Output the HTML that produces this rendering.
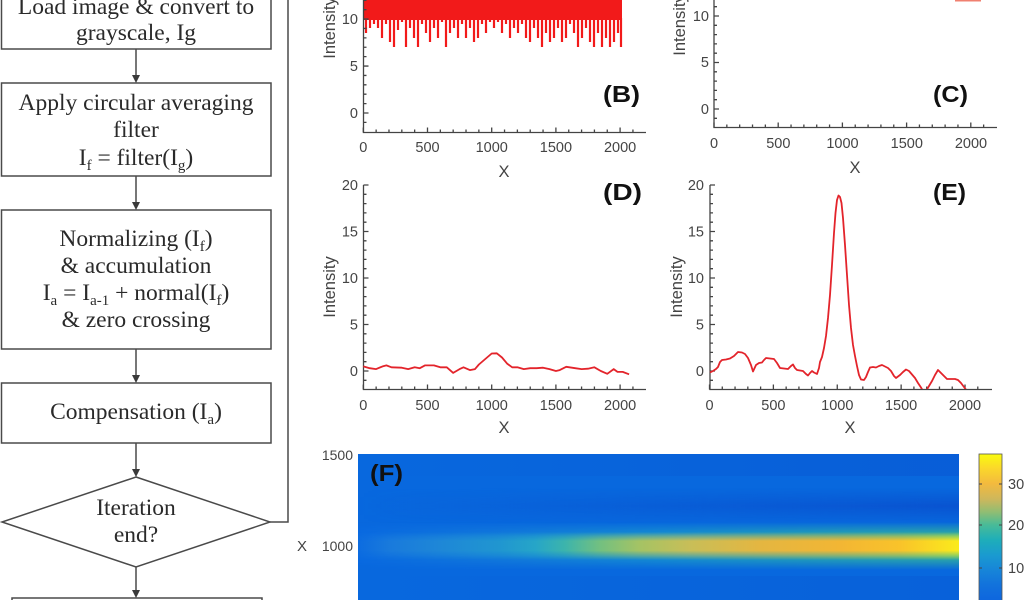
<!DOCTYPE html>
<html><head><meta charset="utf-8"><style>
html,body{margin:0;padding:0;background:#fff;}
svg{display:block;}
.fc{font-family:"Liberation Serif",serif;font-size:23.5px;fill:#2a2a2a;}
.tk{font-family:"Liberation Sans",sans-serif;font-size:14.5px;fill:#444;}
.lb{font-family:"Liberation Sans",sans-serif;font-size:16.5px;fill:#444;}
.pl{font-family:"Liberation Sans",sans-serif;font-size:23px;font-weight:bold;fill:#111;}
</style></head><body>
<svg width="1024" height="600" viewBox="0 0 1024 600" xmlns="http://www.w3.org/2000/svg">
<defs>
 <linearGradient id="core" x1="358" y1="0" x2="959" y2="0" gradientUnits="userSpaceOnUse">
  <stop offset="0" stop-color="rgb(12,108,224)"/>
  <stop offset="0.053" stop-color="rgb(25,122,220)"/>
  <stop offset="0.136" stop-color="rgb(30,135,215)"/>
  <stop offset="0.236" stop-color="rgb(32,150,208)"/>
  <stop offset="0.295" stop-color="rgb(38,165,200)"/>
  <stop offset="0.344" stop-color="rgb(60,180,172)"/>
  <stop offset="0.403" stop-color="rgb(115,192,128)"/>
  <stop offset="0.469" stop-color="rgb(165,195,100)"/>
  <stop offset="0.552" stop-color="rgb(200,190,88)"/>
  <stop offset="0.669" stop-color="rgb(228,182,65)"/>
  <stop offset="0.802" stop-color="rgb(242,182,52)"/>
  <stop offset="0.902" stop-color="rgb(249,195,42)"/>
  <stop offset="1" stop-color="rgb(250,235,28)"/>
 </linearGradient>
 <linearGradient id="halo" x1="358" y1="0" x2="959" y2="0" gradientUnits="userSpaceOnUse">
  <stop offset="0" stop-color="rgb(10,106,225)"/>
  <stop offset="0.24" stop-color="rgb(20,125,218)"/>
  <stop offset="0.5" stop-color="rgb(25,150,205)"/>
  <stop offset="0.75" stop-color="rgb(40,170,175)"/>
  <stop offset="1" stop-color="rgb(55,185,150)"/>
 </linearGradient>
 <linearGradient id="vg1" x1="0" y1="522" x2="0" y2="570" gradientUnits="userSpaceOnUse">
  <stop offset="0" stop-color="#000"/><stop offset="0.3" stop-color="#fff"/>
  <stop offset="0.7" stop-color="#fff"/><stop offset="1" stop-color="#000"/>
 </linearGradient>
 <linearGradient id="vg2" x1="0" y1="532" x2="0" y2="560" gradientUnits="userSpaceOnUse">
  <stop offset="0" stop-color="#000"/><stop offset="0.32" stop-color="#fff"/>
  <stop offset="0.66" stop-color="#fff"/><stop offset="1" stop-color="#000"/>
 </linearGradient>
 <linearGradient id="vg3" x1="0" y1="488" x2="0" y2="524" gradientUnits="userSpaceOnUse">
  <stop offset="0" stop-color="#000"/><stop offset="0.5" stop-color="#fff"/><stop offset="1" stop-color="#000"/>
 </linearGradient>
 <linearGradient id="dk" x1="358" y1="0" x2="959" y2="0" gradientUnits="userSpaceOnUse">
  <stop offset="0" stop-color="rgb(10,70,200)" stop-opacity="0"/>
  <stop offset="0.5" stop-color="rgb(10,70,200)" stop-opacity="0.3"/>
  <stop offset="1" stop-color="rgb(10,70,200)" stop-opacity="0.6"/>
 </linearGradient>
 <mask id="mk1" maskUnits="userSpaceOnUse" x="350" y="500" width="620" height="90">
  <rect x="358" y="522" width="601" height="48" fill="url(#vg1)"/>
 </mask>
 <mask id="mk2" maskUnits="userSpaceOnUse" x="350" y="520" width="620" height="50">
  <rect x="358" y="532" width="601" height="28" fill="url(#vg2)"/>
 </mask>
 <mask id="mk3" maskUnits="userSpaceOnUse" x="350" y="480" width="620" height="50">
  <rect x="358" y="488" width="601" height="36" fill="url(#vg3)"/>
 </mask>
 <linearGradient id="cb" x1="0" y1="454" x2="0" y2="610" gradientUnits="userSpaceOnUse">
  <stop offset="0" stop-color="#f9fb0e"/>
  <stop offset="0.09" stop-color="#fbd82a"/>
  <stop offset="0.19" stop-color="#f3ba3e"/>
  <stop offset="0.29" stop-color="#cdb75c"/>
  <stop offset="0.37" stop-color="#92bd72"/>
  <stop offset="0.455" stop-color="#48bb98"/>
  <stop offset="0.55" stop-color="#1eaeb9"/>
  <stop offset="0.65" stop-color="#1a9ad0"/>
  <stop offset="0.74" stop-color="#1786d8"/>
  <stop offset="0.84" stop-color="#1272dc"/>
  <stop offset="1" stop-color="#0b5fe0"/>
 </linearGradient>
 <clipPath id="ce"><rect x="700" y="170" width="300" height="219"/></clipPath>
 <clipPath id="cd"><rect x="350" y="170" width="300" height="219"/></clipPath>
</defs>

<!-- ================= FLOWCHART ================= -->
<g fill="none" stroke="#4a4a4a" stroke-width="1.5">
 <rect x="1.5" y="-10" width="269.5" height="59"/>
 <rect x="1.5" y="83" width="269.5" height="93"/>
 <rect x="1.5" y="210" width="269.5" height="139"/>
 <rect x="1.5" y="383" width="269.5" height="60"/>
 <polygon points="136,477 270,522 136,567 2,522"/>
 <path d="M270,522H288V0"/>
 <path d="M136,49V76M136,176V203M136,349V376M136,443V470M136,567V591"/>
 <rect x="12" y="598" width="250" height="12"/>
</g>
<g fill="#3a3a3a">
 <polygon points="132,75 140,75 136,83"/>
 <polygon points="132,202 140,202 136,210"/>
 <polygon points="132,375 140,375 136,383"/>
 <polygon points="132,469 140,469 136,477"/>
 <polygon points="132,590 140,590 136,598"/>
</g>
<g class="fc" text-anchor="middle">
 <text x="136" y="14">Load image &amp; convert to</text>
 <text x="136" y="40">grayscale, Ig</text>
 <text x="136" y="110">Apply circular averaging</text>
 <text x="136" y="137">filter</text>
 <text x="136" y="165">I<tspan font-size="15" dy="5">f</tspan><tspan dy="-5"> = filter(I</tspan><tspan font-size="15" dy="5">g</tspan><tspan dy="-5">)</tspan></text>
 <text x="136" y="246">Normalizing (I<tspan font-size="15" dy="5">f</tspan><tspan dy="-5">)</tspan></text>
 <text x="136" y="273">&amp; accumulation</text>
 <text x="136" y="300">I<tspan font-size="15" dy="5">a</tspan><tspan dy="-5"> = I</tspan><tspan font-size="15" dy="5">a-1</tspan><tspan dy="-5"> + normal(I</tspan><tspan font-size="15" dy="5">f</tspan><tspan dy="-5">)</tspan></text>
 <text x="136" y="327">&amp; zero crossing</text>
 <text x="136" y="419">Compensation (I<tspan font-size="15" dy="5">a</tspan><tspan dy="-5">)</tspan></text>
 <text x="136" y="515">Iteration</text>
 <text x="136" y="542">end?</text>
</g>

<!-- ================= CHART B ================= -->
<rect x="364" y="0" width="258" height="20" fill="#f21a1a"/>
<path fill="none" stroke="#f21a1a" stroke-width="2.2" d="M366,18V33M370,18V28M374,18V24M378,18V28M382,18V38M386,18V24M390,18V42M394,18V47M398,18V30M402,18V22M406,18V47M410,18V28M414,18V38M418,18V47M422,18V24M426,18V33M430,18V42M434,18V28M438,18V38M442,18V22M446,18V47M450,18V33M454,18V28M458,18V38M462,18V24M466,18V38M470,18V28M474,18V42M478,18V38M482,18V24M486,18V33M490,18V22M494,18V28M498,18V22M502,18V33M506,18V24M510,18V38M514,18V28M518,18V33M522,18V24M526,18V38M530,18V42M534,18V28M538,18V38M542,18V47M546,18V33M550,18V42M554,18V38M558,18V28M562,18V42M566,18V38M570,18V24M574,18V33M578,18V47M582,18V38M586,18V28M590,18V42M594,18V47M598,18V33M602,18V47M606,18V38M610,18V47M614,18V42M618,18V33M621,18V47"/>
<g fill="none" stroke="#444" stroke-width="1.3">
 <path d="M363.5,0V132.5H646"/>
 <path transform="translate(363.3,132.5)" d="M0,0v-5M12.84,0v-3M25.68,0v-3M38.52,0v-3M51.36,0v-3M64.2,0v-5M77.04,0v-3M89.88,0v-3M102.72,0v-3M115.56,0v-3M128.4,0v-5M141.24,0v-3M154.08,0v-3M166.92,0v-3M179.76,0v-3M192.6,0v-5M205.44,0v-3M218.28,0v-3M231.12,0v-3M243.96,0v-3M256.8,0v-5M269.64,0v-3"/>
 <path transform="translate(363.5,113) scale(1,1.01)" d="M0,9.3h3M0,0h5M0,-9.3h3M0,-18.6h3M0,-27.9h3M0,-37.2h3M0,-46.5h5M0,-55.8h3M0,-65.1h3M0,-74.4h3M0,-83.7h3M0,-93h5M0,-102.3h3M0,-111.6h3"/>
</g>
<g class="tk" text-anchor="middle">
 <text x="363.3" y="152">0</text><text x="427.5" y="152">500</text><text x="491.7" y="152">1000</text><text x="555.9" y="152">1500</text><text x="620.1" y="152">2000</text>
</g>
<g class="tk" text-anchor="end">
 <text x="358" y="118">0</text><text x="358" y="71">5</text><text x="358" y="24">10</text>
</g>
<text class="lb" text-anchor="middle" transform="translate(335,28) rotate(-90)">Intensity</text>
<text class="lb" x="504" y="177" text-anchor="middle">X</text>
<text class="pl" x="603" y="102" textLength="37" lengthAdjust="spacingAndGlyphs">(B)</text>

<!-- ================= CHART C ================= -->
<path d="M955,0.8H981" stroke="#f08070" stroke-width="1.5" fill="none"/>
<g fill="none" stroke="#444" stroke-width="1.3">
 <path d="M714,0V127.5H997"/>
 <path transform="translate(714,127.5)" d="M0,0v-5M12.84,0v-3M25.68,0v-3M38.52,0v-3M51.36,0v-3M64.2,0v-5M77.04,0v-3M89.88,0v-3M102.72,0v-3M115.56,0v-3M128.4,0v-5M141.24,0v-3M154.08,0v-3M166.92,0v-3M179.76,0v-3M192.6,0v-5M205.44,0v-3M218.28,0v-3M231.12,0v-3M243.96,0v-3M256.8,0v-5M269.64,0v-3"/>
 <path transform="translate(714,109)" d="M0,9.3h3M0,0h5M0,-9.3h3M0,-18.6h3M0,-27.9h3M0,-37.2h3M0,-46.5h5M0,-55.8h3M0,-65.1h3M0,-74.4h3M0,-83.7h3M0,-93h5M0,-102.3h3M0,-111.6h3"/>
</g>
<g class="tk" text-anchor="middle">
 <text x="714" y="148">0</text><text x="778.3" y="148">500</text><text x="842.5" y="148">1000</text><text x="906.8" y="148">1500</text><text x="971" y="148">2000</text>
</g>
<g class="tk" text-anchor="end">
 <text x="709" y="114">0</text><text x="709" y="67">5</text><text x="709" y="21">10</text>
</g>
<text class="lb" text-anchor="middle" transform="translate(685,25) rotate(-90)">Intensity</text>
<text class="lb" x="855" y="173" text-anchor="middle">X</text>
<text class="pl" x="933" y="102" textLength="35" lengthAdjust="spacingAndGlyphs">(C)</text>

<!-- ================= CHART D ================= -->
<g fill="none" stroke="#444" stroke-width="1.3">
 <path d="M363.5,185V389.5H646"/>
 <path transform="translate(363.3,389.5)" d="M0,0v-5M12.84,0v-3M25.68,0v-3M38.52,0v-3M51.36,0v-3M64.2,0v-5M77.04,0v-3M89.88,0v-3M102.72,0v-3M115.56,0v-3M128.4,0v-5M141.24,0v-3M154.08,0v-3M166.92,0v-3M179.76,0v-3M192.6,0v-5M205.44,0v-3M218.28,0v-3M231.12,0v-3M243.96,0v-3M256.8,0v-5M269.64,0v-3"/>
 <path transform="translate(363.5,371)" d="M0,9.3h3M0,0h5M0,-9.3h3M0,-18.6h3M0,-27.9h3M0,-37.2h3M0,-46.5h5M0,-55.8h3M0,-65.1h3M0,-74.4h3M0,-83.7h3M0,-93h5M0,-102.3h3M0,-111.6h3M0,-120.9h3M0,-130.2h3M0,-139.5h5M0,-148.8h3M0,-158.1h3M0,-167.4h3M0,-176.7h3M0,-186h5"/>
</g>
<path clip-path="url(#cd)" fill="none" stroke="#e3242b" stroke-width="1.8" stroke-linejoin="round" d="M363.3,366.4L369.7,368.2L376.1,369.1L382.6,366.4L386.4,365.4L391.5,367.3L401.8,367.7L408.2,369.1L414.7,367.3L419.8,368.2L424.9,365.4L433.9,365.4L440.3,367.3L446.8,367.3L453.2,372.9L459.6,369.1L463.5,367.3L469.9,370.1L475,369.1L478.9,364.5L485.3,359L491.7,353.5L496.8,353.3L502,357.5L507.1,363.6L512.2,367.3L517.4,367.3L523.8,369.1L530.2,368.2L536.6,368.2L543.1,367.7L549.5,369.1L555.9,371L559.7,370.1L566.2,366.8L575.2,368.2L581.6,369.1L588,368.7L594.4,367.3L600.8,371L607.3,373.8L613.7,369.1L617.5,371.9L622.7,371.9L629.1,374.3"/>
<g class="tk" text-anchor="middle">
 <text x="363.3" y="410">0</text><text x="427.5" y="410">500</text><text x="491.7" y="410">1000</text><text x="555.9" y="410">1500</text><text x="620.1" y="410">2000</text>
</g>
<g class="tk" text-anchor="end">
 <text x="358" y="376">0</text><text x="358" y="329.5">5</text><text x="358" y="283">10</text><text x="358" y="236.5">15</text><text x="358" y="190">20</text>
</g>
<text class="lb" text-anchor="middle" transform="translate(335,287) rotate(-90)">Intensity</text>
<text class="lb" x="504" y="433" text-anchor="middle">X</text>
<text class="pl" x="603" y="200" textLength="39" lengthAdjust="spacingAndGlyphs">(D)</text>

<!-- ================= CHART E ================= -->
<g fill="none" stroke="#444" stroke-width="1.3">
 <path d="M710,185V389.5H992"/>
 <path transform="translate(709.5,389.5) scale(0.995,1)" d="M0,0v-5M12.84,0v-3M25.68,0v-3M38.52,0v-3M51.36,0v-3M64.2,0v-5M77.04,0v-3M89.88,0v-3M102.72,0v-3M115.56,0v-3M128.4,0v-5M141.24,0v-3M154.08,0v-3M166.92,0v-3M179.76,0v-3M192.6,0v-5M205.44,0v-3M218.28,0v-3M231.12,0v-3M243.96,0v-3M256.8,0v-5M269.64,0v-3"/>
 <path transform="translate(710,371)" d="M0,9.3h3M0,0h5M0,-9.3h3M0,-18.6h3M0,-27.9h3M0,-37.2h3M0,-46.5h5M0,-55.8h3M0,-65.1h3M0,-74.4h3M0,-83.7h3M0,-93h5M0,-102.3h3M0,-111.6h3M0,-120.9h3M0,-130.2h3M0,-139.5h5M0,-148.8h3M0,-158.1h3M0,-167.4h3M0,-176.7h3M0,-186h5"/>
</g>
<path clip-path="url(#ce)" fill="none" stroke="#e3242b" stroke-width="1.8" stroke-linejoin="round" d="M710,372.5L713,371L716,369L718,367L720,362L722,360L726,359.5L730,358.5L734,356L738,352L742,352.5L745,354L748,358L751,365L753,371.5L756,365L759,363L762,362.5L764,360L766,358L770,358.5L774,359L777,363L780,368L784,368.5L788,369L791,366L793,364.5L795,368L797,370L800,370.5L803,371L806,374L808,375.5L810,373L812,371L814,372.5L817,374L819,368L820,362L822,357L824,348L826,336L828,318L830,295L832,265L834,233L835.5,213L837,200L838.5,195.5L840,197L841.5,203L843,218L845,245L847,275L849,305L851,328L853,345L855,356L857,366L859,375L861,379.5L864,380L866,377L868,372L870,367.5L873,367L876,367.5L879,366L882,365L885,366.5L888,368L891,371L894,376L896,378L898,376.5L900,375L903,372L906,369.5L909,371L912,374.5L915,378L918,383L921,387.5L923,391L926,391L929,386L932,381L935,375L938,370L941,373L944,376L947,379L951,379L955,379L958,380L961,383L964,387L967,391"/>
<g class="tk" text-anchor="middle">
 <text x="709.5" y="410">0</text><text x="773.4" y="410">500</text><text x="837.3" y="410">1000</text><text x="901.1" y="410">1500</text><text x="965" y="410">2000</text>
</g>
<g class="tk" text-anchor="end">
 <text x="704" y="376">0</text><text x="704" y="329.5">5</text><text x="704" y="283">10</text><text x="704" y="236.5">15</text><text x="704" y="190">20</text>
</g>
<text class="lb" text-anchor="middle" transform="translate(682,287) rotate(-90)">Intensity</text>
<text class="lb" x="850" y="433" text-anchor="middle">X</text>
<text class="pl" x="933" y="200" textLength="33" lengthAdjust="spacingAndGlyphs">(E)</text>

<!-- ================= HEATMAP F ================= -->
<rect x="358" y="454" width="601" height="146" fill="#0868de"/>
<rect x="358" y="454" width="601" height="22" fill="url(#dk)" opacity="0.5"/>
<rect x="358" y="488" width="601" height="36" fill="url(#dk)" mask="url(#mk3)"/>
<rect x="358" y="576" width="601" height="24" fill="url(#dk)" opacity="0.35"/>
<rect x="358" y="522" width="601" height="48" fill="url(#halo)" mask="url(#mk1)"/>
<rect x="358" y="532" width="601" height="28" fill="url(#core)" mask="url(#mk2)"/>
<text class="pl" x="370" y="481" textLength="33" lengthAdjust="spacingAndGlyphs" fill="#0d1a3a">(F)</text>
<g font-family="Liberation Sans, sans-serif" font-size="14px" fill="#444">
 <text x="353" y="460" text-anchor="end">1500</text>
 <text x="353" y="551" text-anchor="end">1000</text>
 <text x="297" y="551" font-size="15px">X</text>
</g>
<!-- colorbar -->
<rect x="979" y="454" width="23" height="150" fill="url(#cb)" stroke="#555" stroke-width="0.8"/>
<path d="M979,484h3M979,525h3M979,568h3M1002,484h-3M1002,525h-3M1002,568h-3" stroke="#444" stroke-width="1"/>
<g class="tk">
 <text x="1008" y="489">30</text>
 <text x="1008" y="530">20</text>
 <text x="1008" y="573">10</text>
</g>
</svg>
</body></html>
